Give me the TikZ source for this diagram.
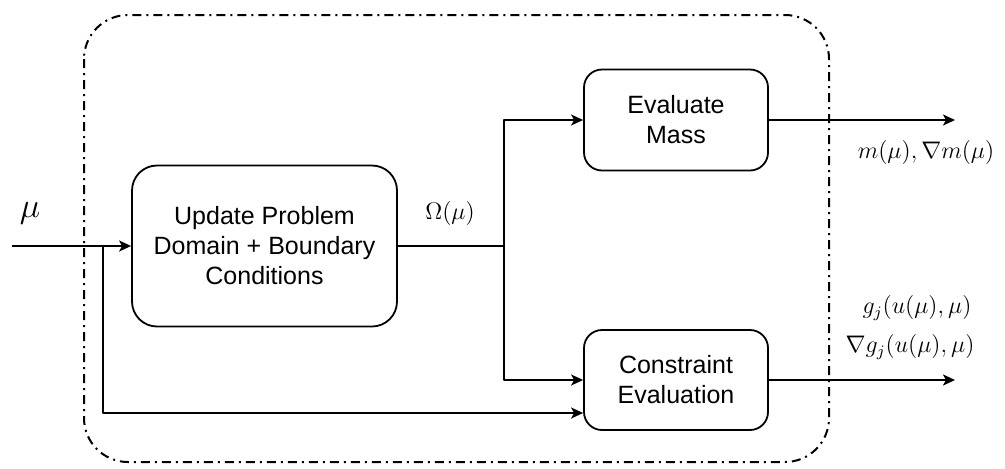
\documentclass[tikz,border=0pt]{standalone}
\usepackage{fontspec}
\setmainfont{Liberation Sans}
\usetikzlibrary{calc,arrows.meta}
\begin{document}
\begin{tikzpicture}[x=0.5pt, y=-0.5pt, line join=round, >={Stealth[length=6pt, width=5.5pt, inset=1.5pt]},
  block/.style={draw, line width=0.9pt, rounded corners=9pt, align=center, inner sep=0pt,
    font=\fontsize{12.5}{15}\selectfont},
  link/.style={line width=1pt},
  frame/.style={line width=1pt, dash pattern=on 4.5pt off 2.5pt on 1pt off 2.5pt, rounded corners=22pt},
  lab/.style={font=\fontsize{12}{14}\selectfont, inner sep=0pt}]
 \useasboundingbox (0,0) rectangle (1005,468);
 \draw[frame] (84,15) rectangle (829,462);
 % blocks
 \node[block, rounded corners=12.5pt, minimum width=132.5pt, minimum height=80.5pt] (update) at (264.5,246)
   {Update Problem\\Domain + Boundary\\Conditions};
 \node[block, minimum width=92pt, minimum height=50.5pt] (mass) at (676,120) {Evaluate\\Mass};
 \node[block, minimum width=92pt, minimum height=50pt] (constr) at (676,380) {Constraint\\Evaluation};
 % points on the wires
 \coordinate (in) at (12,246);
 \coordinate (split) at (103,246);
 \coordinate (branch) at (504,246);
 \coordinate (mout) at (955,120);
 \coordinate (gout) at (955,380);
 % wires
 \draw[link,->] (in) -- (update);
 \draw[link,->] (split) |- ([yshift=-16.5pt]constr.west);
 \draw[link] (update) -- (branch);
 \draw[link,->] (branch) |- (mass);
 \draw[link,->] (branch) |- (constr);
 \draw[link,->] (mass) -- (mout);
 \draw[link,->] (constr) -- (gout);
 % labels
 \node[lab, font=\fontsize{16}{18}\selectfont] (mulab) at (30,213) {$\mu$};
 \node[lab] (omegalab) at (450,213) {$\Omega(\mu)$};
 \node[lab] (mlab) at (926,152) {$m(\mu), \nabla m(\mu)$};
 \node[lab] (glab) at (917,308) {$g_j(u(\mu),\mu)$};
 \node[lab] (dglab) at (910,347) {$\nabla g_j(u(\mu),\mu)$};
\end{tikzpicture}
\end{document}
